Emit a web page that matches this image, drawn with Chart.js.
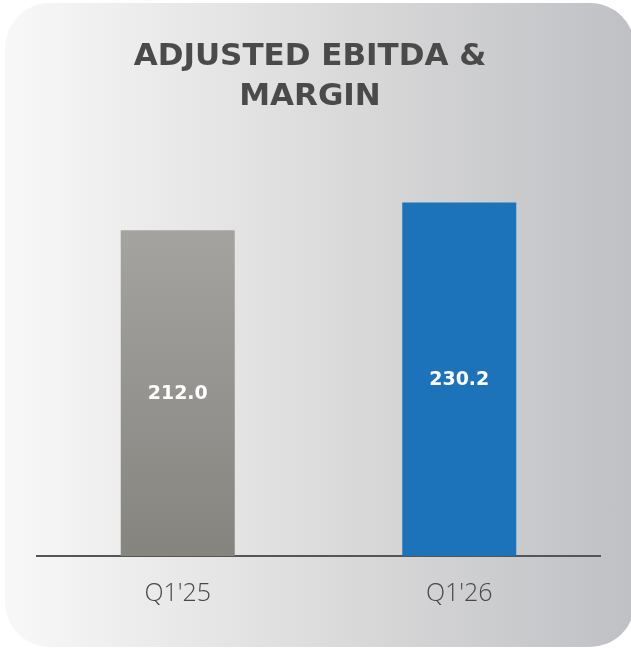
<!DOCTYPE html>
<html>
<head>
<meta charset="utf-8">
<script src="https://cdn.jsdelivr.net/npm/chart.js@4/dist/chart.umd.min.js"></script>
<style>
  body { margin: 0; background: #fff; width: 631px; height: 648px; overflow: hidden; position: relative; }
  #panel { position: absolute; left: 5px; top: 3px; width: 630px; height: 644px; border-radius: 45px;
    background: linear-gradient(to right, #f8f8f8 0%, #dcdcdc 50%, #bfc0c4 100%); }
  #c { position: absolute; left: 0; top: 0; }
</style>
</head>
<body>
<div id="panel"></div>
<canvas id="c" width="631" height="648"></canvas>
<script>
const categories = ["Q1'25", "Q1'26"];
const ebitda = [212.0, 230.2];
const titleLines = ['ADJUSTED EBITDA &', 'MARGIN'];

// title drawn by hand so it can sit slightly left of the plot centre
const titleDraw = {
  id: 'titleDraw',
  afterDraw(chart) {
    const ctx = chart.ctx;
    ctx.save();
    ctx.fillStyle = '#4a4a4a';
    ctx.font = 'bold 31px "DejaVu Sans"';
    ctx.textAlign = 'center';
    ctx.textBaseline = 'middle';
    titleLines.forEach((t, i) => ctx.fillText(t, 310, 57 + i * 40));
    ctx.restore();
  }
};

// white value labels in the middle of each bar
const barLabels = {
  id: 'barLabels',
  afterDatasetsDraw(chart) {
    const ctx = chart.ctx;
    const meta = chart.getDatasetMeta(0);
    ctx.save();
    ctx.fillStyle = '#ffffff';
    ctx.font = 'bold 19px "DejaVu Sans"';
    ctx.textAlign = 'center';
    ctx.textBaseline = 'middle';
    meta.data.forEach((bar, i) => {
      ctx.fillText(ebitda[i].toFixed(1), bar.x, (bar.y + bar.base) / 2 + 1);
    });
    ctx.restore();
  }
};

function barColor(c) {
  if (c.dataIndex === 1) return '#1c73b9';
  const chart = c.chart;
  if (!chart.chartArea) return '#96948f';
  const y = chart.scales.y;
  const g = chart.ctx.createLinearGradient(0, y.getPixelForValue(c.raw), 0, y.getPixelForValue(0));
  g.addColorStop(0, '#a4a3a0');
  g.addColorStop(1, '#86847f');
  return g;
}

new Chart(document.getElementById('c'), {
  type: 'bar',
  data: {
    labels: categories,
    datasets: [{
      label: 'Adjusted EBITDA',
      data: ebitda,
      backgroundColor: barColor,
      barPercentage: 0.405,
      categoryPercentage: 1
    }]
  },
  options: {
    responsive: false,
    animation: false,
    layout: { padding: { left: 37, right: 31, top: 172, bottom: 24 } },
    plugins: {
      legend: { display: false },
      tooltip: { enabled: false },
      title: { display: false }
    },
    scales: {
      x: {
        grid: { display: false },
        border: { display: true, color: '#555555', width: 2 },
        ticks: { color: '#484848', font: { family: '"Open Sans"', size: 25, weight: 300 }, padding: 15 }
      },
      y: { display: false, min: 0, max: 250 }
    }
  },
  plugins: [barLabels, titleDraw]
});
</script>
</body>
</html>
